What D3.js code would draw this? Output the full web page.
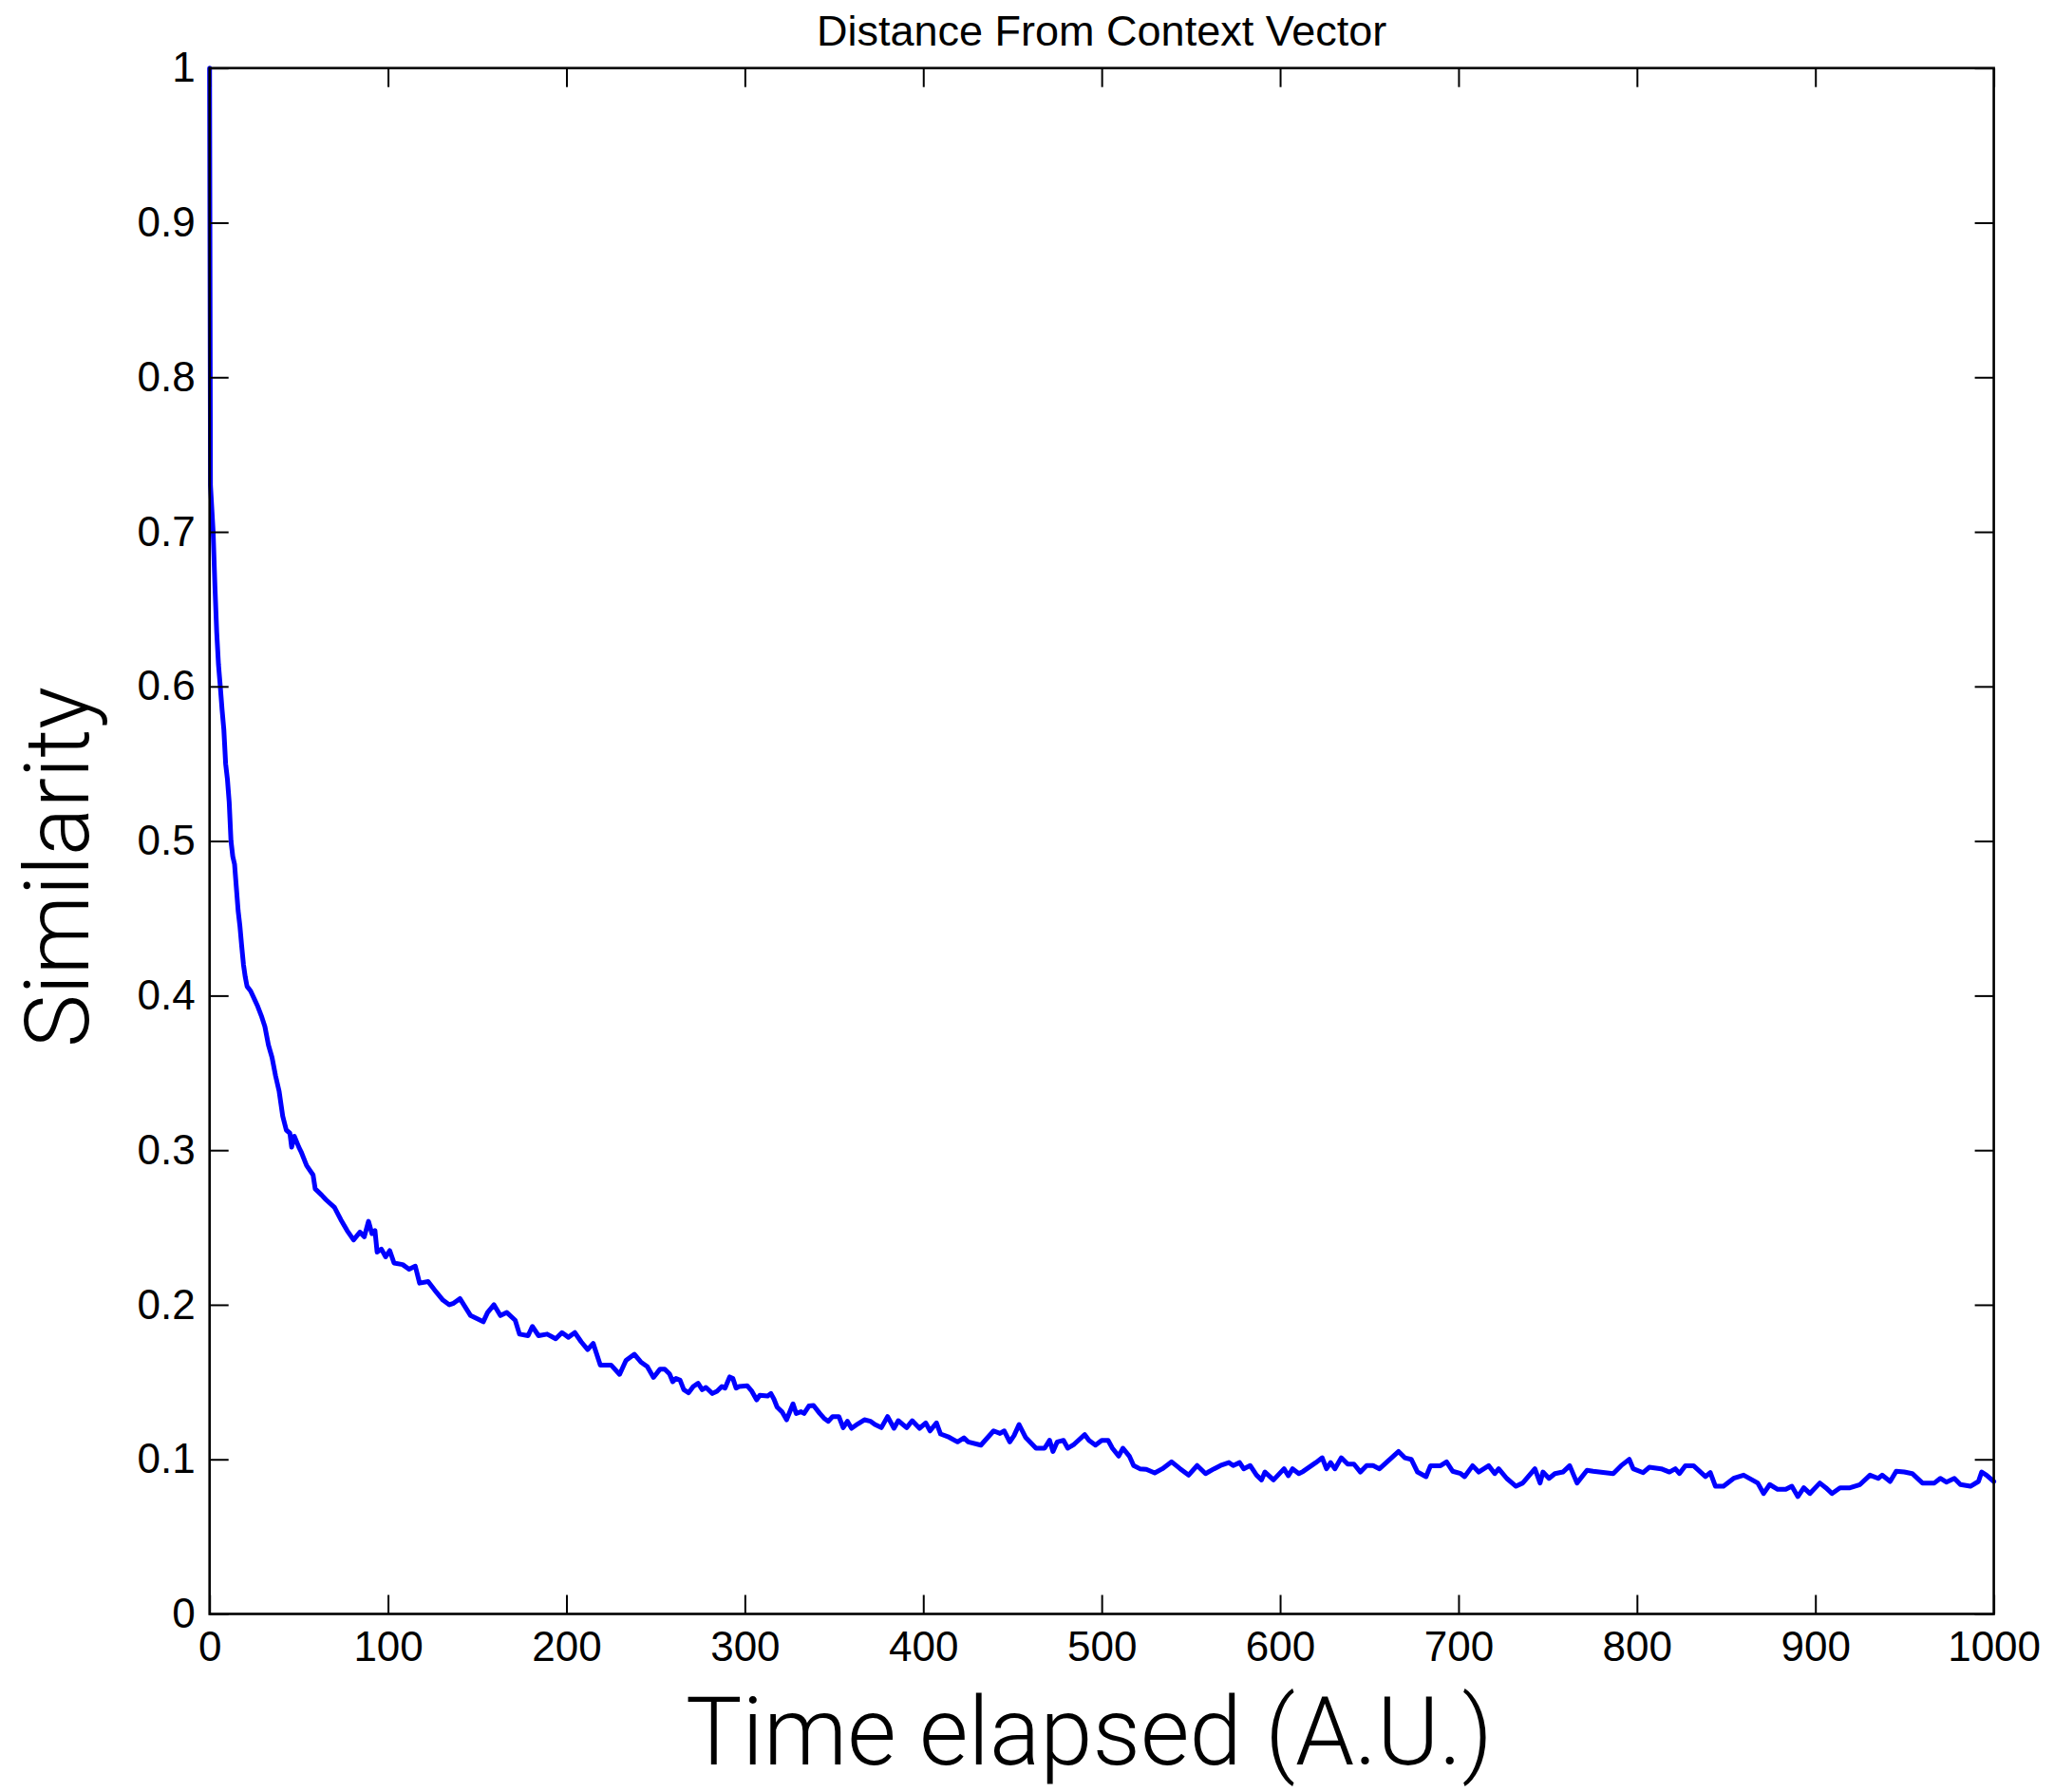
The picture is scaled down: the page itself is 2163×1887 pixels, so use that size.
<!DOCTYPE html>
<html>
<head>
<meta charset="utf-8">
<script src="https://cdn.jsdelivr.net/npm/d3@7"></script>
<style>
  body { margin: 0; background: #fff; }
  svg { display: block; }
</style>
</head>
<body>
<svg id="chart" width="2163" height="1887"></svg>
<script>
const titleText = "Distance From Context Vector";
const xLabelText = "Time elapsed (A.U.)";
const yLabelText = "Similarity";
const xTicks = [0, 100, 200, 300, 400, 500, 600, 700, 800, 900, 1000];
const yTicks = [0, 0.1, 0.2, 0.3, 0.4, 0.5, 0.6, 0.7, 0.8, 0.9, 1];

const times = [0, 0.5, 1, 2, 3, 4, 5, 6, 7, 8, 9, 10, 11, 12, 13, 14, 15, 16, 17, 18, 19, 20, 21, 23, 25, 27, 29, 31, 33, 35, 37, 39, 41, 43, 45, 46, 47.5, 50, 51.3, 54.4, 58, 59.2, 62.8, 65.2, 70, 73.6, 77.1, 80.7, 84.3, 86.7, 89.1, 91, 92.7, 93.9, 96.3, 98.7, 101, 103.4, 108.2, 111.8, 115.3, 117.7, 122.5, 127.2, 130.8, 134.4, 136.8, 140.3, 146.3, 153.4, 155.8, 159.4, 163, 166.6, 171.3, 173.7, 178.5, 180.9, 184.4, 189.2, 194, 197.5, 201.1, 204.7, 208.3, 211.9, 215, 219, 225, 229.8, 233.4, 238.1, 241.7, 245.3, 248.8, 252.5, 255.1, 257.8, 259.6, 261.4, 263.7, 265.8, 268.5, 271.1, 273.8, 276.1, 278.2, 281.8, 284.4, 287.1, 288.9, 291.5, 293.3, 295.1, 296.8, 301.3, 303.9, 306.6, 308.4, 312.8, 314.6, 316.3, 318.1, 320.8, 323.4, 327, 328.8, 331.4, 333.2, 335.9, 338.5, 342, 344.4, 346.8, 349.2, 352.7, 355.1, 357.5, 359.8, 363.4, 367, 370.5, 372.9, 376.5, 380, 383.6, 386, 390.7, 393.8, 397.9, 401.4, 403.8, 407.4, 409.7, 414.5, 419.2, 422.8, 425.2, 432.3, 439.4, 443, 445.4, 448.5, 450.9, 453.7, 457.3, 463.2, 468, 470.8, 472.7, 475.1, 478.6, 481, 484.6, 490.5, 492.9, 496.5, 500, 503.6, 506, 509.5, 511.9, 515.5, 517.9, 521.4, 525, 529.7, 534, 539.2, 544, 548.7, 553.5, 558.2, 563, 566.6, 571.3, 573.7, 577.3, 579.6, 583.2, 586.8, 589.6, 591.5, 596.3, 602.2, 604.6, 607, 610.5, 612.9, 620, 623.6, 626, 628.3, 630.7, 634.3, 637.9, 641.4, 645, 648.5, 652.1, 655.7, 666.4, 669.9, 673.5, 677, 681.8, 684.3, 689.9, 693.3, 696.7, 701.2, 703.4, 707.9, 711.3, 716.9, 720.3, 722.5, 727, 732.2, 736, 742.8, 745.7, 747.3, 750.7, 754, 758.5, 762.3, 766.4, 772, 775.4, 786.7, 791.1, 795.7, 797.9, 803.5, 806.9, 813.6, 818.2, 821.5, 823.8, 827.1, 831.7, 838.4, 841.1, 844, 848.5, 854.2, 859.8, 867.7, 871, 874.4, 878.9, 883.4, 886.8, 890.2, 893.5, 896.9, 902.5, 905.9, 909.3, 913.8, 919.4, 925, 930.6, 935.2, 937.4, 941.9, 945.3, 949.8, 954.3, 960, 966.7, 970, 973.4, 977.9, 981.3, 986.9, 991.4, 993.2, 995.9, 1000];

const similarity = [1.0, 0.73, 0.72, 0.70, 0.665, 0.635, 0.614, 0.60, 0.585, 0.572, 0.55, 0.54, 0.525, 0.50, 0.49, 0.485, 0.47, 0.455, 0.445, 0.432, 0.42, 0.412, 0.406, 0.403, 0.398, 0.393, 0.387, 0.38, 0.368, 0.36, 0.348, 0.338, 0.322, 0.313, 0.311, 0.302, 0.309, 0.302, 0.299, 0.29, 0.284, 0.275, 0.271, 0.268, 0.263, 0.255, 0.248, 0.242, 0.247, 0.244, 0.254, 0.246, 0.248, 0.234, 0.236, 0.231, 0.235, 0.227, 0.226, 0.223, 0.225, 0.214, 0.215, 0.208, 0.203, 0.2, 0.201, 0.204, 0.193, 0.189, 0.195, 0.2, 0.193, 0.195, 0.19, 0.181, 0.18, 0.186, 0.18, 0.181, 0.178, 0.182, 0.179, 0.182, 0.176, 0.171, 0.175, 0.161, 0.161, 0.155, 0.164, 0.168, 0.163, 0.16, 0.153, 0.1584, 0.1584, 0.1553, 0.1502, 0.1523, 0.1512, 0.1451, 0.1431, 0.1471, 0.1492, 0.1451, 0.1465, 0.1426, 0.1441, 0.1471, 0.1461, 0.1533, 0.1523, 0.1461, 0.1471, 0.1476, 0.1441, 0.1385, 0.1414, 0.141, 0.1426, 0.139, 0.1338, 0.1308, 0.1256, 0.1359, 0.1297, 0.1308, 0.1297, 0.1345, 0.1349, 0.1297, 0.1266, 0.1246, 0.1277, 0.1277, 0.1205, 0.1246, 0.1201, 0.123, 0.1256, 0.1246, 0.1225, 0.1205, 0.1277, 0.1201, 0.125, 0.1205, 0.125, 0.1201, 0.1236, 0.1184, 0.1236, 0.1164, 0.1143, 0.1113, 0.1139, 0.1113, 0.1092, 0.1184, 0.1168, 0.1184, 0.1113, 0.1154, 0.1225, 0.1143, 0.1072, 0.1072, 0.1123, 0.1051, 0.1113, 0.1123, 0.1072, 0.1098, 0.116, 0.1123, 0.1092, 0.1123, 0.1123, 0.1072, 0.1021, 0.1072, 0.1021, 0.096, 0.0939, 0.0935, 0.0912, 0.0939, 0.0984, 0.0939, 0.0898, 0.096, 0.0908, 0.0939, 0.096, 0.0979, 0.096, 0.0979, 0.0939, 0.096, 0.0898, 0.0867, 0.0918, 0.0867, 0.0939, 0.0894, 0.0939, 0.0908, 0.0922, 0.0979, 0.101, 0.0939, 0.0979, 0.0939, 0.101, 0.0969, 0.0969, 0.0918, 0.096, 0.096, 0.0939, 0.1051, 0.101, 0.1, 0.0918, 0.0888, 0.0959, 0.0959, 0.0984, 0.0923, 0.0908, 0.0888, 0.0959, 0.0918, 0.0959, 0.0908, 0.0939, 0.0877, 0.0826, 0.0847, 0.0939, 0.0847, 0.0918, 0.0877, 0.0908, 0.0918, 0.0959, 0.0847, 0.0929, 0.0923, 0.0908, 0.0959, 0.1, 0.0939, 0.0914, 0.0949, 0.0939, 0.0918, 0.0939, 0.0908, 0.0959, 0.0959, 0.0888, 0.0914, 0.0826, 0.0826, 0.0877, 0.0898, 0.0847, 0.0779, 0.0837, 0.0806, 0.0806, 0.0826, 0.0759, 0.0816, 0.0779, 0.0847, 0.0816, 0.0779, 0.0816, 0.0816, 0.0837, 0.0898, 0.0877, 0.0898, 0.0857, 0.0923, 0.0918, 0.0908, 0.0847, 0.0847, 0.0877, 0.0853, 0.0877, 0.0837, 0.0826, 0.0857, 0.0918, 0.0898, 0.0857];

const L = 220.7, R = 2099.6, T = 71.7, B = 1699.5;
const svg = d3.select("#chart");
const x = d3.scaleLinear().domain([0, 1000]).range([L, R]);
const y = d3.scaleLinear().domain([0, 1]).range([B, T]);

const tickFont = "'Liberation Sans', Arial, Helvetica, sans-serif";
const labelFont = "Roboto, 'Open Sans', sans-serif";
const fmt = d => (d === 0 || d === 1) ? String(d) : d.toFixed(1);

// Data line
const line = d3.line().x((d, i) => x(times[i])).y(d => y(d));
svg.append("path")
  .datum(similarity)
  .attr("d", line)
  .attr("fill", "none")
  .attr("stroke", "#0000ff")
  .attr("stroke-width", 5)
  .attr("stroke-linejoin", "round")
  .attr("stroke-linecap", "round");

// Axes
const tickLen = 20;
const gB = svg.append("g").attr("transform", `translate(0,${B})`)
  .call(d3.axisBottom(x).tickValues(xTicks).tickSizeInner(-tickLen).tickSizeOuter(0).tickPadding(18).tickFormat(d => String(d)));
const gT = svg.append("g").attr("transform", `translate(0,${T})`)
  .call(d3.axisTop(x).tickValues(xTicks).tickSizeInner(-tickLen).tickSizeOuter(0).tickFormat(""));
const gL = svg.append("g").attr("transform", `translate(${L},0)`)
  .call(d3.axisLeft(y).tickValues(yTicks).tickSizeInner(-tickLen).tickSizeOuter(0).tickPadding(15).tickFormat(fmt));
const gR = svg.append("g").attr("transform", `translate(${R},0)`)
  .call(d3.axisRight(y).tickValues(yTicks).tickSizeInner(-tickLen).tickSizeOuter(0).tickFormat(""));

[gB, gT, gL, gR].forEach(g => {
  g.select(".domain").remove();
  g.selectAll(".tick line").attr("stroke", "#000").attr("stroke-width", 2);
  g.selectAll(".tick text").attr("font-family", tickFont).attr("font-size", 44).attr("fill", "#000");
});
svg.append("rect")
  .attr("x", L).attr("y", T).attr("width", R - L).attr("height", B - T)
  .attr("fill", "none").attr("stroke", "#000").attr("stroke-width", 2.6);

// Title
svg.append("text")
  .attr("x", (L + R) / 2).attr("y", 48)
  .attr("text-anchor", "middle")
  .attr("font-family", tickFont).attr("font-size", 45).attr("fill", "#000")
  .text(titleText);

// Axis labels (light weight, fitted to reference extents)
function fitText(sel, targetWidth) {
  const w = sel.node().getComputedTextLength();
  const fs = parseFloat(sel.attr("font-size"));
  sel.attr("font-size", fs * targetWidth / w);
}
const xl = svg.append("text")
  .attr("x", 1147).attr("y", 1858)
  .attr("text-anchor", "middle")
  .attr("font-family", labelFont).attr("font-weight", 300)
  .attr("font-size", 95).attr("fill", "#000")
  .text(xLabelText);
fitText(xl, 850);

const yl = svg.append("text")
  .attr("transform", "translate(93,913) rotate(-90)")
  .attr("text-anchor", "middle")
  .attr("font-family", labelFont).attr("font-weight", 300)
  .attr("font-size", 95).attr("fill", "#000")
  .text(yLabelText);
fitText(yl, 380);
</script>
</body>
</html>
